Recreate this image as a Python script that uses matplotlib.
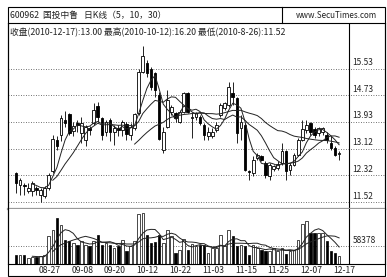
import numpy as np
import pandas as pd
import matplotlib
matplotlib.use("Agg")
import matplotlib.pyplot as plt
from matplotlib.patches import Rectangle

plt.rcParams['font.family'] = ['Noto Sans CJK SC', 'DejaVu Sans']

# daily OHLC
opens = [12.39, 12.04, 12.04, 11.84, 11.84, 11.94, 11.74, 11.71, 11.94, 12.44,
         13.39, 13.54, 13.99, 14.17, 13.67, 13.89, 13.61, 13.39, 13.74, 13.89,
         14.41, 14.04, 13.64, 13.99, 13.64, 13.74, 13.69, 13.87, 13.54, 13.74,
         14.19, 15.44, 15.71, 15.51, 15.39, 14.74, 13.09, 13.79, 14.24, 14.19,
         13.94, 14.24, 14.79, 14.04, 14.09, 14.09, 13.84, 13.49, 13.49, 13.69,
         14.14, 14.34, 14.44, 14.79, 14.64, 13.74, 13.84, 12.46, 12.39, 12.84,
         12.89, 12.69, 12.29, 12.51, 12.54, 12.69, 13.04, 12.49, 12.64, 12.94,
         13.39, 13.69, 13.89, 13.71, 13.59, 13.64, 13.54, 13.29, 13.14, 12.96]
closes = [12.09, 12.19, 11.99, 11.94, 12.09, 11.87, 11.89, 11.94, 12.34, 13.41,
          13.21, 14.04, 13.91, 13.59, 13.81, 13.84, 13.89, 13.77, 13.69, 14.29,
          14.07, 13.54, 13.94, 13.64, 13.74, 13.69, 13.94, 13.57, 13.77, 14.17,
          15.44, 15.91, 15.39, 14.99, 14.89, 13.41, 13.64, 14.59, 14.39, 14.04,
          14.24, 14.79, 14.24, 14.09, 14.19, 13.89, 13.54, 13.64, 13.64, 13.84,
          14.44, 14.49, 14.99, 14.69, 13.59, 13.94, 12.49, 12.41, 12.79, 12.94,
          12.79, 12.34, 12.64, 12.61, 12.67, 13.04, 12.44, 12.64, 12.94, 13.39,
          13.71, 13.84, 13.64, 13.54, 13.74, 13.74, 13.39, 13.14, 12.94, 13.00]
highs = [12.41, 12.24, 12.09, 12.09, 12.14, 11.99, 11.94, 11.99, 12.39, 13.54,
         13.49, 14.14, 14.27, 14.21, 13.94, 13.99, 14.07, 13.84, 13.81, 14.49,
         14.54, 14.09, 13.99, 14.04, 13.84, 13.84, 13.99, 13.94, 13.91, 14.19,
         15.51, 16.20, 15.79, 15.59, 15.44, 14.84, 13.79, 14.89, 14.44, 14.24,
         14.29, 14.84, 14.84, 14.24, 14.24, 14.14, 13.89, 13.79, 13.74, 13.94,
         14.49, 14.54, 15.14, 15.14, 14.69, 14.14, 13.89, 12.49, 12.89, 12.99,
         12.94, 12.74, 12.69, 12.64, 12.74, 13.29, 13.09, 12.69, 12.99, 13.44,
         13.99, 13.99, 13.94, 13.79, 13.79, 13.79, 13.64, 13.49, 13.19, 13.05]
lows = [11.79, 11.74, 11.74, 11.79, 11.69, 11.74, 11.52, 11.64, 11.89, 12.39,
        13.09, 13.34, 13.79, 13.54, 13.49, 13.64, 13.29, 13.19, 13.54, 13.84,
        13.94, 13.39, 13.49, 13.34, 13.24, 13.49, 13.49, 13.39, 13.39, 13.69,
        14.14, 15.39, 15.29, 14.89, 14.69, 13.39, 12.99, 13.74, 14.14, 13.94,
        13.89, 14.19, 14.19, 13.44, 13.99, 13.84, 13.39, 13.39, 13.44, 13.64,
        14.09, 14.29, 14.39, 14.44, 13.29, 13.39, 12.44, 12.19, 12.29, 12.79,
        12.74, 12.24, 12.19, 12.44, 12.49, 12.64, 12.19, 12.34, 12.59, 12.89,
        13.34, 13.59, 13.54, 13.44, 13.49, 13.54, 13.29, 13.09, 12.89, 12.79]
volumes = [28100, 28100, 28100, 19500, 21600, 23800, 24900, 30300, 89700, 111300,
           149200, 127600, 78900, 73500, 68100, 62700, 73500, 62700, 57300, 73500,
           95100, 62700, 68100, 62700, 51900, 57300, 78900, 41100, 57300, 73500,
           160900, 166300, 92900, 68100, 71300, 95100, 68100, 111300, 89700, 35700,
           46500, 82200, 46500, 64900, 57300, 62700, 62700, 35700, 51900, 51900,
           93000, 57300, 111300, 89700, 57300, 62700, 57300, 30300, 62700, 51900,
           46500, 41100, 41100, 51900, 41100, 51900, 32400, 41100, 46500, 78900,
           129700, 140500, 100400, 100400, 100400, 100400, 73500, 41100, 35700, 24900]

tick_idx = [7, 15, 23, 31, 39, 47, 55, 63, 71, 79]
tick_dates = ["08-27", "09-08", "09-20", "10-12", "10-22",
              "11-03", "11-15", "11-25", "12-07", "12-17"]
price_levels = [11.52, 12.32, 13.12, 13.93, 14.73, 15.53]
vol_level = 58378

header = "600962  国投中鲁   日K线（5，10，30）"
subtitle = "收盘(2010-12-17):13.00 最高(2010-10-12):16.20 最低(2010-8-26):11.52"
site = "www.SecuTimes.com"

W, H = 387, 277
fig = plt.figure(figsize=(W / 100, H / 100), dpi=100)


def box(x0, y0, x1, y1):
    return [x0 / W, 1 - y1 / H, (x1 - x0) / W, (y1 - y0) / H]


step = 4.09
xlim = (-8 / step, (385 - 16) / step)
sep = (349 - 16) / step

ax = fig.add_axes(box(8, 23, 385, 209))
axv = fig.add_axes(box(8, 209, 385, 264))

df = pd.DataFrame({"o": opens, "h": highs, "l": lows, "c": closes, "v": volumes})
idx = np.arange(len(df))

# candles
for i, row in df.iterrows():
    up = row["c"] >= row["o"]
    ax.vlines(i, row["l"], row["h"], color="k", lw=0.6, zorder=2)
    bottom = min(row["o"], row["c"])
    height = max(abs(row["c"] - row["o"]), 0.02)
    ax.add_patch(Rectangle((i - 0.33, bottom), 0.66, height,
                           facecolor="white" if up else "black",
                           edgecolor="black", lw=0.6, zorder=3))

# moving averages
for n in (5, 10, 30):
    ma = df["c"].rolling(n).mean()
    ax.plot(idx, ma, color="#222222", lw=0.7, zorder=4)

for lv in price_levels:
    ax.axhline(lv, color="#444444", lw=0.6, ls=(0, (1, 2)), zorder=1)
    ax.annotate(f"{lv:.2f}", xy=(sep, lv), xytext=(2.5, 1),
                textcoords="offset points", ha="left", va="bottom",
                fontsize=6, color="#222222")

ax.axvline(sep, color="k", lw=0.8)
ax.set_xlim(*xlim)
ax.set_ylim(11.52 - 7 / 33.25, 11.52 + 179 / 33.25)
ax.set_xticks([])
ax.set_yticks([])
for s in ax.spines.values():
    s.set_linewidth(0.8)
ax.spines["bottom"].set_color("#999999")
ax.spines["bottom"].set_linewidth(1.6)

# volume pane
colors = ["white" if c >= o else "black" for o, c in zip(opens, closes)]
axv.bar(idx, df["v"], width=0.62, color=colors, edgecolor="black", lw=0.5, zorder=2)
for n in (5, 10):
    axv.plot(idx, df["v"].rolling(n).mean(), color="#222222", lw=0.7, zorder=3)
axv.axhline(vol_level, color="#444444", lw=0.6, ls=(0, (1, 2)), zorder=1)
axv.annotate(str(vol_level), xy=(sep, vol_level), xytext=(2.5, 1),
             textcoords="offset points", ha="left", va="bottom",
             fontsize=6, color="#222222")
axv.axvline(sep, color="k", lw=0.8)
axv.set_xlim(*xlim)
axv.set_ylim(0, vol_level * 55 / 18)
axv.set_yticks([])
axv.set_xticks([i + 1.2 for i in tick_idx])
axv.set_xticklabels(tick_dates, fontsize=6.2, color="#222222")
axv.tick_params(axis="x", length=0, pad=1.2)
axv.spines["top"].set_visible(False)
for s in ("left", "right", "bottom"):
    axv.spines[s].set_linewidth(0.8)

# frame and header
frame = fig.add_axes([0, 0, 1, 1], facecolor="none")
frame.set_xlim(0, W)
frame.set_ylim(H, 0)
frame.axis("off")
frame.add_patch(Rectangle((8, 7), 377, 269, fill=False, edgecolor="k", lw=0.8))
frame.plot([282, 282], [7, 23], color="k", lw=0.8)
frame.text(10, 15.5, header, fontsize=6.3, va="center", ha="left", color="#222222")
frame.text(336, 15.5, site, fontsize=5.8, va="center", ha="center", color="#222222")
frame.text(10, 32, subtitle, fontsize=6.3, va="center", ha="left", color="#222222")

fig.savefig("out.png", dpi=100)
